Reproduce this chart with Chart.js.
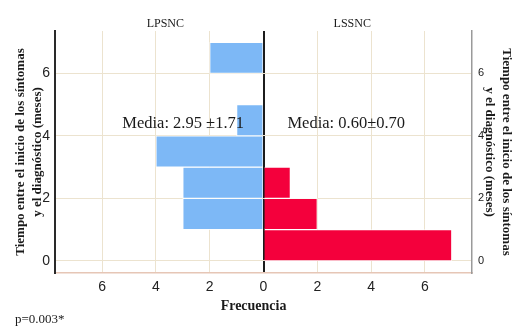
<!DOCTYPE html>
<html>
<head>
<meta charset="utf-8">
<script src="https://cdn.jsdelivr.net/npm/chart.js@4.4.0/dist/chart.umd.min.js"></script>
<style>
  html, body { margin: 0; padding: 0; background: #ffffff; }
  #wrap { width: 513px; height: 327px; position: relative; }
  canvas { display: block; }
</style>
</head>
<body>
<div id="wrap"><canvas id="c" width="513" height="327"></canvas></div>
<script>
// ---- data ----
const binStarts = [0, 1, 2, 3, 4, 5, 6];      // months (bin width 1)
const binWidth = 1;
const lpsncCounts = [0, 3, 3, 4, 1, 0, 2];     // left panel (LPSNC)
const lssncCounts = [7, 2, 1, 0, 0, 0, 0];     // right panel (LSSNC)
const freqTicks = [-6, -4, -2, 0, 2, 4, 6];
const monthTicks = [0, 2, 4, 6];
const panelLabels = ['LPSNC', 'LSSNC'];
const meanLabels = ['Media: 2.95 \u00b11.71', 'Media: 0.60\u00b10.70'];
const yTitle = ['Tiempo entre el inicio de los s\u00edntomas', 'y el diagn\u00f3stico (meses)'];
const xTitle = 'Frecuencia';
const pNote = 'p=0.003*';

const serif = "'Liberation Serif', 'DejaVu Serif', serif";
const sans = "'Liberation Sans', Arial, sans-serif";

function toPoints(counts, sign) {
  const pts = [];
  counts.forEach((c, i) => {
    if (c > 0) pts.push({ x: sign * c, y: binStarts[i] + binWidth / 2 });
  });
  return pts;
}

const gridBeige = '#ECE3CF';

const annotations = {
  id: 'annotations',
  afterDatasetsDraw(chart) {
    const { ctx, chartArea, scales } = chart;
    const x = scales.x, y = scales.y;
    ctx.save();
    ctx.fillStyle = '#1a1a1a';
    // panel labels
    ctx.font = '12px ' + serif;
    ctx.textAlign = 'center';
    ctx.textBaseline = 'middle';
    ctx.fillText(panelLabels[0], x.getPixelForValue(-3.65), chartArea.top - 7);
    ctx.fillText(panelLabels[1], x.getPixelForValue(3.3), chartArea.top - 7);
    // mean labels
    ctx.font = '16.5px ' + serif;
    ctx.textAlign = 'left';
    ctx.fillText(meanLabels[0], x.getPixelForValue(-5.25), y.getPixelForValue(4.38));
    ctx.fillText(meanLabels[1], x.getPixelForValue(0.89), y.getPixelForValue(4.38));
    // x title
    ctx.font = 'bold 14px ' + serif;
    ctx.textAlign = 'center';
    ctx.fillText(xTitle, x.getPixelForValue(-0.37), chartArea.bottom + 33);
    // p note
    ctx.font = '13px ' + serif;
    ctx.textAlign = 'left';
    ctx.fillText(pNote, 15, 320);
    ctx.restore();
  }
};

new Chart(document.getElementById('c'), {
  type: 'bar',
  data: {
    datasets: [
      {
        label: panelLabels[0],
        data: toPoints(lpsncCounts, -1),
        backgroundColor: '#7DB8F6',
        borderColor: 'rgba(255,255,255,0.85)',
        borderWidth: 1,
        borderSkipped: 'left',
        yAxisID: 'y'
      },
      {
        label: panelLabels[1],
        data: toPoints(lssncCounts, 1),
        backgroundColor: '#F4003C',
        borderColor: 'rgba(255,255,255,0.85)',
        borderWidth: 1,
        borderSkipped: 'left',
        yAxisID: 'y'
      }
    ]
  },
  options: {
    indexAxis: 'y',
    responsive: false,
    animation: false,
    devicePixelRatio: 1,
    grouped: false,
    barPercentage: 1,
    categoryPercentage: 1,
    layout: { padding: { top: 31, left: 0, right: 0, bottom: 0 } },
    plugins: {
      legend: { display: false },
      tooltip: { enabled: false }
    },
    scales: {
      x: {
        type: 'linear',
        min: -7.75,
        max: 7.75,
        offset: false,
        afterBuildTicks(scale) { scale.ticks = freqTicks.map(v => ({ value: v })); },
        afterFit(scale) { scale.height = 54; },
        ticks: {
          callback: v => Math.abs(v),
          font: { family: sans, size: 14 },
          color: '#222',
          padding: 6,
          maxRotation: 0
        },
        grid: {
          offset: false,
          drawTicks: false,
          color: c => (c.tick && c.tick.value === 0) ? '#1c1c1c' : gridBeige,
          lineWidth: c => (c.tick && c.tick.value === 0) ? 2 : 1
        },
        border: { display: true, color: '#E6C6B6', width: 1.5 }
      },
      y: {
        type: 'linear',
        position: 'left',
        min: -0.39,
        max: 7.36,
        offset: false,
        afterBuildTicks(scale) { scale.ticks = monthTicks.map(v => ({ value: v })); },
        afterFit(scale) { scale.width = 55; },
        ticks: {
          font: { family: sans, size: 14 },
          color: '#222',
          padding: 5
        },
        grid: { offset: false, drawTicks: false, color: gridBeige, lineWidth: 1 },
        border: { display: true, color: '#2a2a2a', width: 2 },
        title: {
          display: true,
          text: yTitle,
          font: { family: serif, size: 13, weight: 'bold', lineHeight: 1.3 },
          color: '#1a1a1a',
          padding: { top: 12, bottom: 0 }
        }
      },
      y2: {
        type: 'linear',
        position: 'right',
        min: -0.39,
        max: 7.36,
        offset: false,
        afterBuildTicks(scale) { scale.ticks = monthTicks.map(v => ({ value: v })); },
        afterFit(scale) { scale.width = 41; },
        ticks: {
          font: { family: sans, size: 11 },
          color: '#222',
          padding: 6
        },
        grid: { offset: false, drawOnChartArea: false, drawTicks: false },
        border: { display: true, color: '#9a9a9a', width: 1.5 },
        title: {
          display: true,
          text: yTitle,
          font: { family: serif, size: 13, weight: 'bold', lineHeight: 1.3 },
          color: '#1a1a1a',
          padding: { top: -2, bottom: 0 }
        }
      }
    }
  },
  plugins: [annotations]
});
</script>
</body>
</html>
